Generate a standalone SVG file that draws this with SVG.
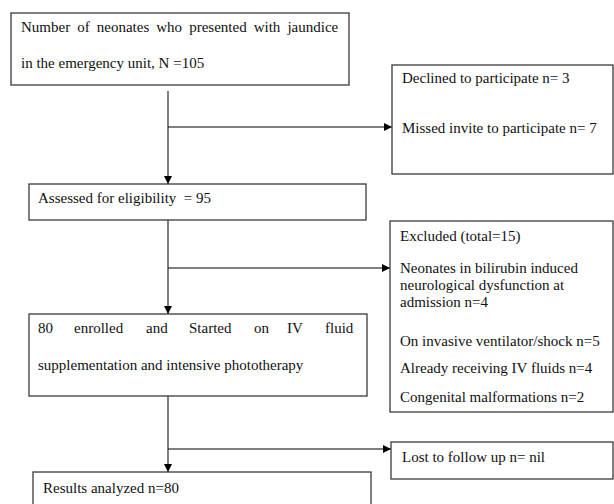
<svg xmlns="http://www.w3.org/2000/svg" width="614" height="504" viewBox="0 0 614 504">
<style>
.box{fill:#fff;stroke:#3a3a3a;stroke-width:1.3}
.t{font-family:"Liberation Serif","Times New Roman",serif;font-size:15px;fill:#111}
.ln{fill:none;stroke:#3a3a3a;stroke-width:1.3}
.lh{fill:none;stroke:#000;stroke-width:1.2}
</style>
<defs>
<marker id="ah" viewBox="0 0 10 10" refX="10" refY="5" markerWidth="8" markerHeight="8" markerUnits="userSpaceOnUse" orient="auto">
<path d="M0,0 L10,5 L0,10 z" fill="#000"/>
</marker>
</defs>
<rect width="614" height="504" fill="#fff"/>
<g id="connectors">
<line class="ln" x1="168" y1="91" x2="168" y2="184" marker-end="url(#ah)"/>
<line class="lh" x1="168" y1="127" x2="392" y2="127" marker-end="url(#ah)"/>
<line class="ln" x1="168" y1="220" x2="168" y2="314" marker-end="url(#ah)"/>
<line class="lh" x1="168" y1="268" x2="390" y2="268" marker-end="url(#ah)"/>
<line class="ln" x1="168" y1="396" x2="168" y2="472" marker-end="url(#ah)"/>
<line class="lh" x1="168" y1="449" x2="391" y2="449" marker-end="url(#ah)"/>
</g>
<g id="presented">
<rect class="box" x="11" y="13" width="338" height="72"/>
<text class="t" x="21" y="32" word-spacing="3.3">Number of neonates who presented with jaundice</text>
<text class="t" x="21" y="68">in the emergency unit, N =105</text>
</g>
<g id="declined">
<rect class="box" x="392" y="65" width="221" height="109"/>
<text class="t" x="402" y="83">Declined to participate n= 3</text>
<text class="t" x="402" y="133">Missed invite to participate n= 7</text>
</g>
<g id="assessed">
<rect class="box" x="29" y="184" width="337" height="36"/>
<text class="t" x="38" y="203" xml:space="preserve">Assessed for eligibility  = 95</text>
</g>
<g id="excluded">
<rect class="box" x="390" y="221" width="223" height="191"/>
<text class="t" x="400" y="241">Excluded (total=15)</text>
<text class="t" x="400" y="273">Neonates in bilirubin induced</text>
<text class="t" x="400" y="290">neurological dysfunction at</text>
<text class="t" x="400" y="307">admission n=4</text>
<text class="t" x="400" y="346">On invasive ventilator/shock n=5</text>
<text class="t" x="400" y="373">Already receiving IV fluids n=4</text>
<text class="t" x="400" y="402">Congenital malformations n=2</text>
</g>
<g id="enrolled">
<rect class="box" x="29" y="314" width="338" height="82"/>
<text class="t" y="333"><tspan x="38">80</tspan><tspan x="74">enrolled</tspan><tspan x="146">and</tspan><tspan x="189">Started</tspan><tspan x="254">on</tspan><tspan x="287">IV</tspan><tspan x="325">fluid</tspan></text>
<text class="t" x="38" y="370">supplementation and intensive phototherapy</text>
</g>
<g id="lost">
<rect class="box" x="391" y="442" width="222" height="37"/>
<text class="t" x="402" y="462">Lost to follow up n= nil</text>
</g>
<g id="results">
<rect class="box" x="33" y="472" width="338" height="40"/>
<text class="t" x="43" y="493">Results analyzed n=80</text>
</g>
</svg>
